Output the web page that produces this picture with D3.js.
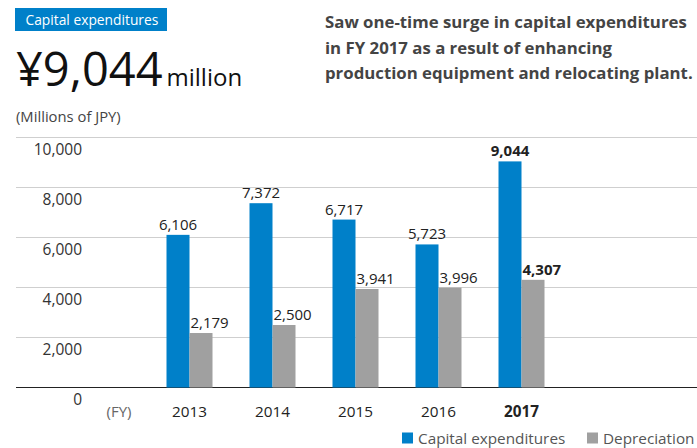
<!DOCTYPE html>
<html>
<head>
<meta charset="utf-8">
<script src="https://cdn.jsdelivr.net/npm/d3@7"></script>
<style>
  html, body { margin: 0; padding: 0; background: #fff; }
  svg { display: block; font-family: "Open Sans", "Noto Sans", sans-serif; }
</style>
</head>
<body>
<svg id="chart" width="697" height="448"></svg>
<script>
// Fiscal years and series (millions of JPY)
const years = ["2013", "2014", "2015", "2016", "2017"];
const capex = [6106, 7372, 6717, 5723, 9044];
const depreciation = [2179, 2500, 3941, 3996, 4307];
const yTicks = [0, 2000, 4000, 6000, 8000, 10000];
const seriesNames = ["Capital expenditures", "Depreciation"];
const seriesColors = ["#0080c9", "#a0a0a0"];
const highlightYear = "2017";

const svg = d3.select("#chart");

// Header badge
svg.append("rect").attr("x", 15).attr("y", 8).attr("width", 152).attr("height", 23).attr("fill", "#0080c9");
svg.append("text").attr("x", 25.5).attr("y", 25).attr("fill", "#fff")
  .attr("font-size", 13.8).text("Capital expenditures");

// Headline figure
const big = svg.append("text").attr("x", 16).attr("y", 86).attr("fill", "#111");
big.append("tspan").attr("font-size", 47).text("¥9,044");
big.append("tspan").attr("font-size", 24).attr("dx", 4).text("million");

svg.append("text").attr("x", 16).attr("y", 122).attr("fill", "#444")
  .attr("font-size", 14.8).text("(Millions of JPY)");

// Commentary
const note = ["Saw one-time surge in capital expenditures",
              "in FY 2017 as a result of enhancing",
              "production equipment and relocating plant."];
svg.append("g").selectAll("text").data(note).join("text")
  .attr("x", 325).attr("y", (d, i) => 28 + i * 25.5)
  .attr("fill", "#444").attr("font-size", 16.8).attr("font-weight", 700)
  .text(d => d);

// Scales
const y = d3.scaleLinear().domain([0, 10000]).range([387.5, 137.5]);
const x0 = d3.scaleBand().domain(years).range([148, 563])
  .paddingInner(37 / 83).paddingOuter(37 / 166);
const x1 = d3.scaleBand().domain(seriesNames).range([0, x0.bandwidth()]);

// Gridlines and y labels
const yAxis = svg.append("g").attr("class", "y-axis");
yAxis.selectAll("line").data(yTicks).join("line")
  .attr("x1", 16).attr("x2", 697)
  .attr("y1", d => y(d)).attr("y2", d => y(d))
  .attr("stroke", d => d === 0 ? "#222" : "#cfcfcf")
  .attr("stroke-width", 1.2);
yAxis.selectAll("text").data(yTicks).join("text")
  .attr("x", 82).attr("y", d => y(d) + 17.5)
  .attr("text-anchor", "end").attr("fill", "#333").attr("font-size", 15.5)
  .text(d => d3.format(",")(d));

// Bars
const rows = years.map((yr, i) => ({ year: yr, values: [capex[i], depreciation[i]] }));
const groups = svg.append("g").selectAll("g").data(rows).join("g")
  .attr("transform", d => `translate(${x0(d.year)},0)`);

groups.selectAll("rect").data(d => d.values.map((v, k) => ({ v, k, year: d.year })))
  .join("rect")
  .attr("x", d => x1(seriesNames[d.k]))
  .attr("width", x1.bandwidth())
  .attr("y", d => y(d.v))
  .attr("height", d => y(0) - y(d.v))
  .attr("fill", d => seriesColors[d.k]);

// Value labels
groups.selectAll("text").data(d => d.values.map((v, k) => ({ v, k, year: d.year })))
  .join("text")
  .attr("x", d => d.k === 0 ? x1(seriesNames[0]) + x1.bandwidth() / 2 : x1(seriesNames[1]) + 1)
  .attr("y", d => y(d.v) - 5)
  .attr("text-anchor", d => d.k === 0 ? "middle" : "start")
  .attr("fill", "#222").attr("font-size", 15)
  .attr("font-weight", d => d.year === highlightYear ? 700 : 400)
  .text(d => d3.format(",")(d.v));

// Category labels
svg.append("g").selectAll("text").data(years).join("text")
  .attr("x", d => x0(d) + x0.bandwidth() / 2).attr("y", 416.5)
  .attr("text-anchor", "middle").attr("fill", "#222").attr("font-size", 15.3)
  .attr("font-weight", d => d === highlightYear ? 700 : 400)
  .text(d => d);
svg.append("text").attr("x", 119).attr("y", 416.5).attr("text-anchor", "middle")
  .attr("fill", "#666").attr("font-size", 15).text("(FY)");

// Legend
const legendX = [402, 587];
const legend = svg.append("g").selectAll("g").data(seriesNames).join("g")
  .attr("transform", (d, i) => `translate(${legendX[i]},432.5)`);
legend.append("rect").attr("width", 11).attr("height", 11)
  .attr("fill", (d, i) => seriesColors[i]);
legend.append("text").attr("x", 16).attr("y", 11)
  .attr("fill", "#555").attr("font-size", 15.3).text(d => d);
</script>
</body>
</html>
